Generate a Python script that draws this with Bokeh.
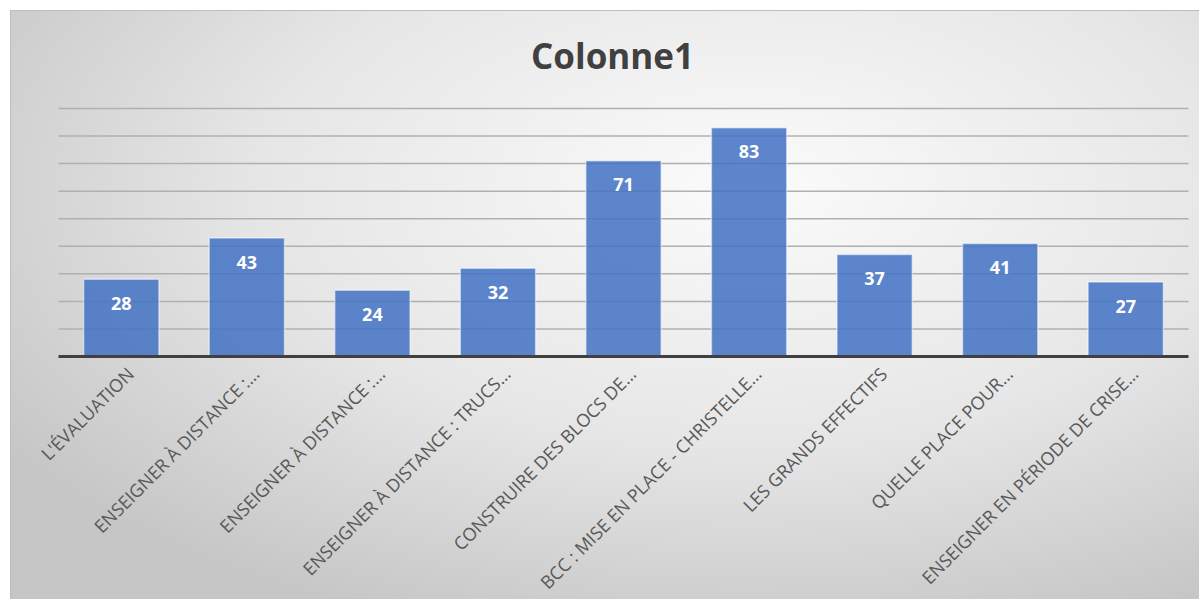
import math
from bokeh.plotting import figure
from bokeh.models import ColumnDataSource, LabelSet, Label, Range1d
from bokeh.core.properties import value
from bokeh.embed import file_html
from bokeh.resources import INLINE

title_text = "Colonne1"
labels = [
    "L'ÉVALUATION",
    "ENSEIGNER À DISTANCE :…",
    "ENSEIGNER À DISTANCE :…",
    "ENSEIGNER À DISTANCE : TRUCS…",
    "CONSTRUIRE DES BLOCS DE…",
    "BCC : MISE EN PLACE - CHRISTELLE…",
    "LES GRANDS EFFECTIFS",
    "QUELLE PLACE POUR…",
    "ENSEIGNER EN PÉRIODE DE CRISE…",
]
values = [28, 43, 24, 32, 71, 83, 37, 41, 27]
grid_ticks = [10, 20, 30, 40, 50, 60, 70, 80, 90]

n = len(values)
idx = list(range(n))

# layout (pixels inside the figure)
W, H = 1189, 589
plot_left, plot_right = 47, 1177      # x extent of the category area
baseline_px, top_px = 345, 97         # y pixel of value 0 and value 90 (from top)
y_max = 90
px_x = (plot_right - plot_left) / n
px_y = (baseline_px - top_px) / y_max
x_start = -0.5 - plot_left / px_x
x_end = x_start + W / px_x
y_end = baseline_px / px_y
y_start = y_end - H / px_y

src = ColumnDataSource(dict(x=idx, top=values, txt=[str(v) for v in values],
                            cat=labels, base=[0] * n))
gsrc = ColumnDataSource(dict(y=grid_ticks, x0=[-0.5] * len(grid_ticks),
                             x1=[n - 0.5] * len(grid_ticks)))

p = figure(
    width=W, height=H,
    output_backend="svg", toolbar_location=None,
    x_range=Range1d(x_start, x_end),
    y_range=Range1d(y_start, y_end),
    min_border=0,
    styles={
        "background": "radial-gradient(ellipse 75% 80% at 62% 30%, #fbfbfb 0%, #e6e6e6 55%, #c6c6c6 100%)",
        "border-left": "1px solid #bdbdbd",
        "border-top": "1px solid #bdbdbd",
        "margin-left": "10px",
        "margin-top": "10px",
    },
)
p.background_fill_color = None
p.border_fill_color = None
p.outline_line_color = None
p.axis.visible = False
p.grid.visible = False

# gridlines
p.segment(x0="x0", x1="x1", y0="y", y1="y", source=gsrc,
          line_color="#b0b0b0", line_width=1.5)

# title
p.add_layout(Label(x=(n - 1) / 2, y=y_max, text=title_text,
                   x_offset=-11, y_offset=53,
                   text_align="center", text_baseline="middle",
                   text_font="Open Sans", text_font_size="35px",
                   text_font_style="bold", text_color="#404040"))

p.vbar(x="x", top="top", width=0.6, source=src,
       fill_color="#4472C4", fill_alpha=0.86,
       line_color="#ffffff", line_alpha=0.5, line_width=1.5)

# baseline (category axis line)
p.segment(x0=[-0.5], x1=[n - 0.5], y0=[0], y1=[0],
          line_color="#404040", line_width=3)

p.add_layout(LabelSet(x="x", y="top", text="txt", source=src,
                      text_align="center", text_baseline="middle", y_offset=-24,
                      text_color="white", text_font=value("Open Sans"),
                      text_font_size="18px", text_font_style="bold"))

# category labels (rotated)
p.add_layout(LabelSet(x="x", y="base", text="cat", source=src,
                      angle=math.pi / 4, text_align="right", text_baseline="middle",
                      x_offset=9, y_offset=-14,
                      text_color="#595959", text_font=value("Open Sans"),
                      text_font_size="18px"))

open("out.html", "w").write(file_html(p, INLINE))
